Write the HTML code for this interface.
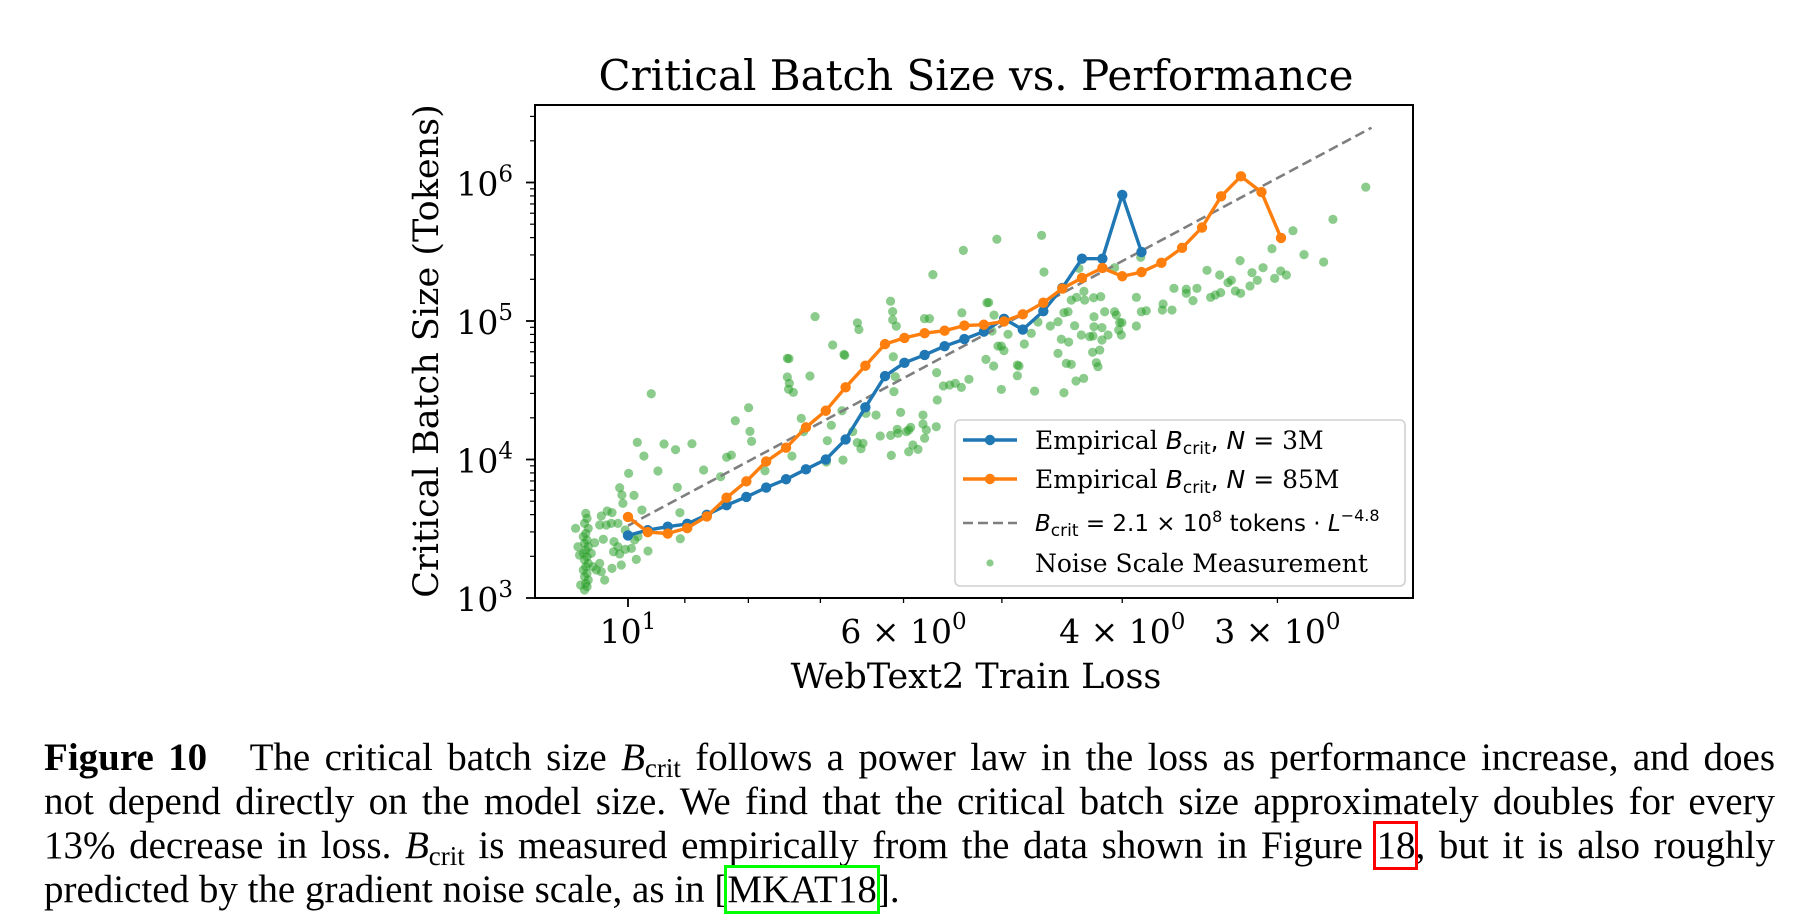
<!DOCTYPE html>
<html><head><meta charset="utf-8">
<style>
html,body{margin:0;padding:0;background:#fff;}
body{width:1804px;height:915px;position:relative;overflow:hidden;}
#chart{position:absolute;left:0;top:0;}
.cap{position:absolute;left:44px;width:1731px;font-family:"Liberation Serif",serif;font-size:39px;line-height:44px;text-align:justify;text-align-last:justify;white-space:nowrap;color:#000;}
.cap i{font-style:italic;}
.cap sub{font-size:27px;vertical-align:-7px;line-height:0;}
.box-red{outline:3px solid #f00;outline-offset:0px;}
.box-green{outline:3px solid #0f0;}
</style></head>
<body>
<svg id="chart" width="1804" height="720" xmlns="http://www.w3.org/2000/svg"></svg>

<div class="cap" style="top:736px"><b>Figure 10</b>&nbsp;&nbsp; The critical batch size <i>B</i><sub>crit</sub> follows a power law in the loss as performance increase, and does</div>
<div class="cap" style="top:780px">not depend directly on the model size. We find that the critical batch size approximately doubles for every</div>
<div class="cap" style="top:824px">13% decrease in loss. <i>B</i><sub>crit</sub> is measured empirically from the data shown in Figure <span class="box-red">18</span>, but it is also roughly</div>
<div class="cap" style="top:868px;text-align-last:left;width:auto">predicted by the gradient noise scale, as in [<span class="box-green">MKAT18</span>].</div>

<script>
// ---- data ----
const stepLoss = [10.00,9.64,9.29,8.96,8.64,8.33,8.03,7.74,7.46,7.19,6.93,6.68,6.44,6.21,5.99,5.77,5.56,5.36,5.17,4.98,4.81,4.63,4.47,4.31,4.15,4.00,3.86,3.72,3.58,3.45,3.33,3.21,3.09,2.98];
const blueBcrit = [2830,3090,3270,3430,3990,4680,5370,6270,7200,8490,10000,13960,23800,40000,49900,56900,65800,74000,83800,103700,86700,117800,173400,281800,281800,812800,314800];
const orangeBcrit = [3850,2990,2920,3200,3880,5300,6950,9680,12160,17060,22490,33190,47530,68080,75510,81660,85110,92680,93970,99300,111700,135500,171400,204600,241500,210400,225400,263000,337300,473200,794300,1109000,853000,398000];
const fitCoef = 2.1e8, fitExp = -4.8, fitLossRange = [10, 2.52];
// noise scale measurements: log10(loss), log10(B)
const noiseLogLoss = [1.034,1.033,1.035,1.032,1.034,1.036,1.033,1.035,1.032,1.034,1.036,1.033,1.035,1.032,1.034,1.036,1.033,1.035,1.032,1.034,1.033,1.035,
1.0422,1.0403,1.039,1.0381,1.0296,1.0282,1.0255,1.0228,1.0215,1.0188,1.0129,1.0054,0.9933,0.9839,1.0022,1.0081,1.0116,1.0067,0.9973,0.9947,0.992,1.0113,1.0199,1.0228,1.0175,1.0135,1.0081,1.0215,1.0167,1.0129,1.0269,1.0022,0.9888,1.0041,1.0067,1.0049,0.9952,0.9995,0.9925,0.9872,0.9759,0.9813,0.971,0.9617,0.9485,0.9603,0.9582,0.9579,0.9391,0.9254,0.9206,0.9168,0.9136,0.9029,0.9018,0.9005,0.8897,0.868,0.8717,0.8717,0.8701,0.8707,0.8669,0.8535,0.8605,0.8586,0.8363,0.8395,0.8269,0.8403,0.8277,0.8191,0.8154,0.8108,0.8124,0.8084,0.8003,0.7969,0.788,0.7885,0.7832,0.7805,0.7826,0.7759,0.774,0.7724,0.7706,0.7665,0.774,0.7612,0.7625,0.7625,0.7598,0.7518,0.751,0.7515,0.7461,0.741,0.7365,0.7316,0.7255,0.7859,0.7864,0.7848,0.8261,
0.703,0.667,0.6651,0.711,0.7053,0.7069,0.694,0.7021,0.6994,0.6973,0.7118,0.7056,0.6994,0.6865,0.6852,0.6865,0.6809,0.6753,0.6699,0.66,0.6538,0.649,0.6457,0.6431,0.6388,0.6329,0.6323,0.6251,0.6194,0.6162,0.6082,0.6068,0.6041,0.6023,0.6049,0.6028,0.6135,0.6184,0.6184,0.6248,0.6248,0.6256,0.6283,0.635,0.6404,0.6511,0.6452,0.6538,0.6471,0.6431,0.6259,0.6202,0.6229,0.6216,0.6393,0.6331,0.649,0.6726,0.5907,0.5907,0.5867,0.5827,0.5872,0.6082,0.6369,0.5692,0.5698,0.562,0.5604,0.5505,0.5505,0.5451,0.5419,0.5338,0.5309,0.5271,0.5228,0.5236,0.5169,0.5142,0.511,0.5067,0.5072,0.4976,0.4992,0.4933,0.4887,0.4793,0.4745,0.4699,0.4815,0.4646,0.4557,0.4399,0.4324,0.406,
0.8494,0.8352,0.8255,0.8141,0.8153,0.7886,0.7869,0.7869,0.784,0.7613,0.7573,0.7545,0.73,0.7312,0.8704,0.7096];
const noiseLogB = [3.611,3.575,3.539,3.503,3.467,3.443,3.419,3.394,3.37,3.346,3.322,3.298,3.274,3.25,3.226,3.202,3.178,3.154,3.13,3.106,3.082,3.058,
3.503,3.37,3.31,3.094,3.322,3.226,3.202,3.25,3.19,3.13,3.214,3.238,3.279,3.339,3.351,3.37,3.334,3.318,3.358,3.419,3.443,3.407,3.424,3.527,3.527,3.539,3.539,3.592,3.628,3.616,3.399,3.491,3.635,3.683,3.796,3.744,3.741,3.9,4.124,4.025,3.917,4.475,4.112,4.071,4.114,3.799,3.616,3.428,3.924,3.876,4.016,4.032,4.28,4.374,4.203,4.131,3.919,4.025,4.73,4.596,4.55,4.507,4.485,4.603,4.297,4.201,4.247,4.136,3.996,3.982,4.352,4.201,4.122,4.117,4.078,4.333,4.321,4.17,4.03,4.174,4.218,4.34,4.189,4.201,4.213,4.232,4.105,4.073,4.056,4.153,4.256,4.321,4.213,4.237,4.43,4.627,4.531,4.538,4.55,4.521,4.579,4.49,4.742,4.598,4.759,
5.59,5.618,5.354,5.132,5.043,4.928,4.904,4.819,4.819,4.786,4.723,4.675,4.506,4.682,4.675,4.605,4.834,4.911,4.993,4.964,4.995,5.06,5.067,5.151,5.171,5.214,5.151,5.168,5.176,5.067,5.067,5.043,4.988,4.988,4.935,4.899,4.899,4.863,4.952,5.031,4.959,4.892,4.887,4.899,4.966,4.868,4.848,4.766,4.694,4.687,4.774,4.79,4.699,4.67,4.567,4.586,4.482,4.494,4.964,5.171,5.067,5.074,5.46,5.385,5.38,5.123,5.079,5.079,5.236,5.229,5.2,5.147,5.236,5.366,5.171,5.188,5.205,5.332,5.277,5.294,5.217,5.2,5.436,5.349,5.253,5.294,5.385,5.308,5.361,5.332,5.522,5.652,5.479,5.426,5.734,5.967,
5.032,4.827,4.752,4.939,4.987,5.143,5.068,5.008,4.963,5.017,5.017,5.335,5.51,5.059,4.728,5.134];
const xTickValues = [10,9,8,7,6,5,4,3];
const xTickLabels = {10:["10","1"],6:["6 × 10","0"],4:["4 × 10","0"],3:["3 × 10","0"]};
const yTickExps = [3,4,5,6];

// ---- layout ----
const P = {l:535, r:1413, t:105, b:598};
const X0 = 628, XPD = 1242;
const Y0 = 598, YPD = 138.5;
const xOfLog = lg => X0 + (1 - lg) * XPD;
const xOf = L => xOfLog(Math.log10(L));
const yOfLog = lg => Y0 - (lg - 3) * YPD;
const yOf = B => yOfLog(Math.log10(B));

const svg = document.getElementById('chart');
const NS = 'http://www.w3.org/2000/svg';
function mk(tag, attrs, parent) {
  const e = document.createElementNS(NS, tag);
  for (const k in attrs) e.setAttribute(k, attrs[k]);
  (parent || svg).appendChild(e);
  return e;
}
const SERIF = '"DejaVu Serif","Liberation Serif",serif';
const SANS = '"DejaVu Sans","Liberation Sans",sans-serif';

const title = mk('text', {x: 976, y: 90, 'text-anchor':'middle', 'font-family':SERIF, 'font-size':42});
title.textContent = 'Critical Batch Size vs. Performance';



const defs = mk('defs', {});
const cp = mk('clipPath', {id:'plotclip'}, defs);
mk('rect', {x:P.l, y:P.t, width:P.r-P.l, height:P.b-P.t}, cp);

const gScatter = mk('g', {'clip-path':'url(#plotclip)'});


for (let i = 0; i < noiseLogLoss.length; i++) {
  const c = mk('circle', {cx: xOfLog(noiseLogLoss[i]), cy: yOfLog(noiseLogB[i]), r: 4.6, fill:'#2ca02c', 'fill-opacity':0.55}, gScatter);
  
  
}

const fit = mk('line', {x1: xOf(fitLossRange[0]), y1: yOf(fitCoef*Math.pow(fitLossRange[0],fitExp)),
  x2: xOf(fitLossRange[1]), y2: yOf(fitCoef*Math.pow(fitLossRange[1],fitExp)),
  stroke:'#7f7f7f', 'stroke-width':2.6, 'stroke-dasharray':'10 5'});



function series(vals, color, name) {
  const g = mk('g', {'clip-path':'url(#plotclip)'});
  
  
  const pts = vals.map((v,i) => xOf(stepLoss[i]).toFixed(1)+','+yOf(v).toFixed(1)).join(' ');
  mk('polyline', {points: pts, fill:'none', stroke: color, 'stroke-width':3.4, 'stroke-linejoin':'round'}, g);
  vals.forEach((v,i) => {
    const c = mk('circle', {cx: xOf(stepLoss[i]), cy: yOf(v), r: 5.2, fill: color}, g);
    
    
  });
}
series(blueBcrit, '#1f77b4', 'series-3m');
series(orangeBcrit, '#ff7f0e', 'series-85m');

const frame = mk('rect', {x:P.l, y:P.t, width:P.r-P.l, height:P.b-P.t, fill:'none', stroke:'#000', 'stroke-width':2});



xTickValues.forEach(v => {
  const x = xOf(v);
  const major = v === 10;
  mk('line', {x1:x, y1:P.b, x2:x, y2:P.b + (major ? 9 : 5), stroke:'#000', 'stroke-width': major ? 1.8 : 1.3});
  if (xTickLabels[v]) {
    const t = mk('text', {x:x, y:P.b+45, 'text-anchor':'middle', 'font-family':SERIF, 'font-size':33});
    
    
    const a = mk('tspan', {}, t); a.textContent = xTickLabels[v][0];
    const b = mk('tspan', {dy:-14, 'font-size':23}, t); b.textContent = xTickLabels[v][1];
  }
});
yTickExps.forEach(e => {
  const y = yOfLog(e);
  mk('line', {x1:P.l-9, y1:y, x2:P.l, y2:y, stroke:'#000', 'stroke-width':1.8});
  const t = mk('text', {x:P.l-22, y:y+13, 'text-anchor':'end', 'font-family':SERIF, 'font-size':33});
  
  
  const a = mk('tspan', {}, t); a.textContent = '10';
  const b = mk('tspan', {dy:-14, 'font-size':23}, t); b.textContent = String(e);
  for (let m = 2; m <= 9; m++) {
    const yy = yOfLog(e + Math.log10(m));
    if (yy < P.t) break;
    mk('line', {x1:P.l-5, y1:yy, x2:P.l, y2:yy, stroke:'#000', 'stroke-width':1.2});
  }
});

const xl = mk('text', {x:976, y:688, 'text-anchor':'middle', 'font-family':SERIF, 'font-size':35});
xl.textContent = 'WebText2 Train Loss';


const yl = mk('text', {x:0, y:0, 'text-anchor':'middle', 'font-family':SERIF, 'font-size':35, transform:'translate(438,351) rotate(-90)'});
yl.textContent = 'Critical Batch Size (Tokens)';



const lg = mk('g', {});


mk('rect', {x:955, y:420, width:450, height:166, rx:5, fill:'#fff', 'fill-opacity':0.8, stroke:'#d0d0d0', 'stroke-width':1.6}, lg);
function legText(y, parts) {
  const t = mk('text', {x:1035, y:y, 'font-family':SERIF, 'font-size':25}, lg);
  
  
  parts.forEach(p => { const s = mk('tspan', p[1] || {}, t); s.textContent = p[0]; });
}
const e1 = mk('g', {}, lg);


mk('line', {x1:963, y1:440, x2:1017, y2:440, stroke:'#1f77b4', 'stroke-width':3.4}, e1);
mk('circle', {cx:990, cy:440, r:5.2, fill:'#1f77b4'}, e1);
legText(449, [['Empirical '],['B',{'font-family':SANS,'font-style':'italic'}],['crit',{'font-family':SANS,'font-size':17,dy:5}],[', ',{dy:-5,'font-family':SANS}],['N',{'font-family':SANS,'font-style':'italic'}],[' = ',{'font-family':SANS}],['3M']]);
const e2 = mk('g', {}, lg);


mk('line', {x1:963, y1:479, x2:1017, y2:479, stroke:'#ff7f0e', 'stroke-width':3.4}, e2);
mk('circle', {cx:990, cy:479, r:5.2, fill:'#ff7f0e'}, e2);
legText(488, [['Empirical '],['B',{'font-family':SANS,'font-style':'italic'}],['crit',{'font-family':SANS,'font-size':17,dy:5}],[', ',{dy:-5,'font-family':SANS}],['N',{'font-family':SANS,'font-style':'italic'}],[' = ',{'font-family':SANS}],['85M']]);
const e3 = mk('g', {}, lg);


mk('line', {x1:963, y1:523, x2:1017, y2:523, stroke:'#7f7f7f', 'stroke-width':2.6, 'stroke-dasharray':'10 5'}, e3);
legText(531, [['B',{'font-family':SANS,'font-style':'italic','font-size':23}],['crit',{'font-family':SANS,'font-size':17,dy:5}],[' = 2.1 × 10',{dy:-5,'font-family':SANS,'font-size':23}],['8',{dy:-9,'font-family':SANS,'font-size':16}],[' tokens · ',{dy:9,'font-family':SANS,'font-size':23}],['L',{'font-family':SANS,'font-style':'italic','font-size':23}],['−4.8',{dy:-10,'font-family':SANS,'font-size':16}]]);
const e4 = mk('g', {}, lg);


mk('circle', {cx:990, cy:563, r:3.6, fill:'#2ca02c', 'fill-opacity':0.55}, e4);
legText(572, [['Noise Scale Measurement']]);
</script>
</body></html>
